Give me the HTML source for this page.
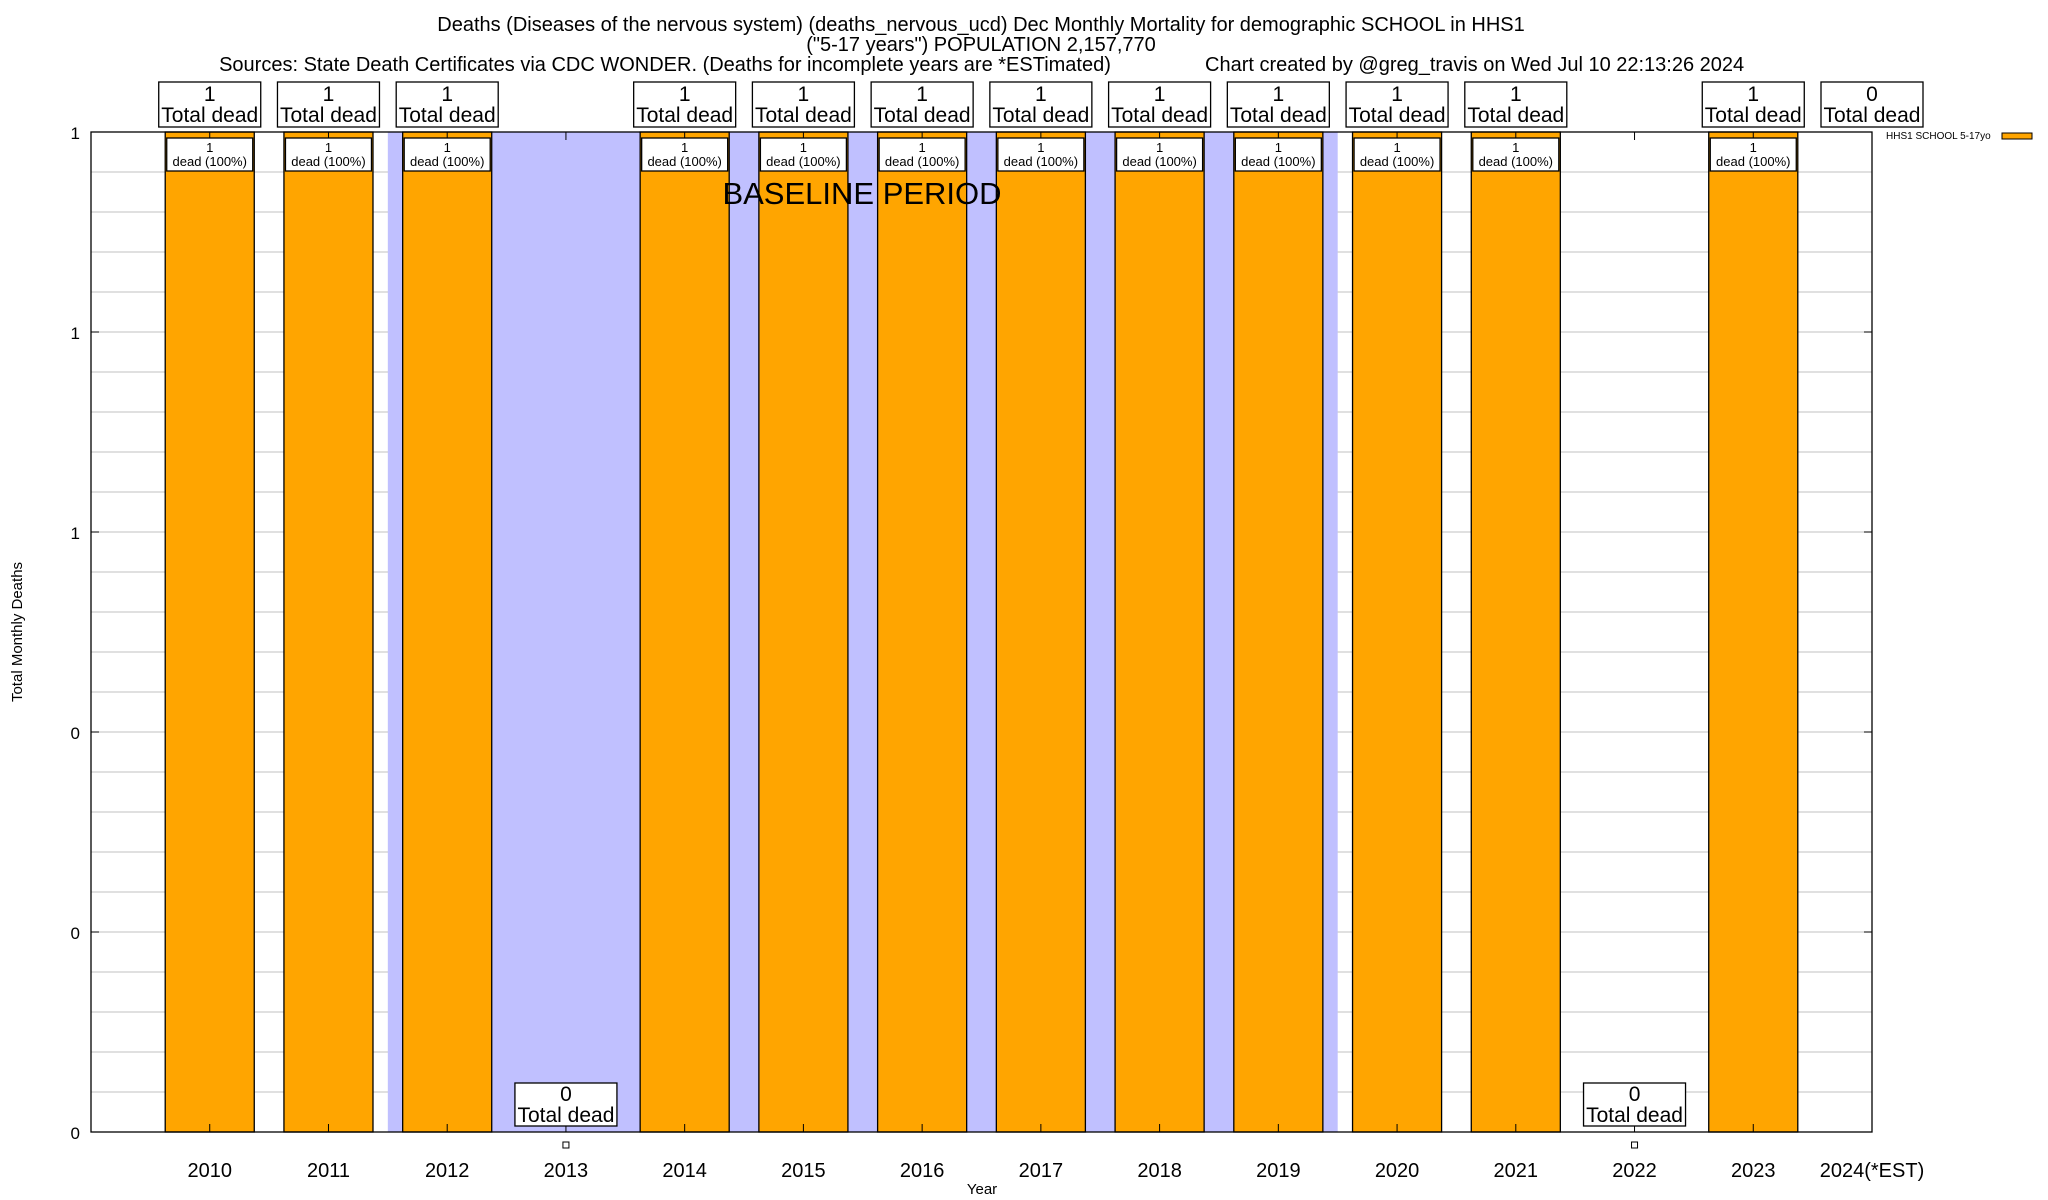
<!DOCTYPE html>
<html><head><meta charset="utf-8"><style>
html,body{margin:0;padding:0;background:#fff;}
svg{display:block;font-family:"Liberation Sans",sans-serif;}
</style></head><body>
<svg id="chart" width="2048" height="1200" viewBox="0 0 2048 1200">
<g font-size="20" text-anchor="middle">
<text x="981" y="31">Deaths (Diseases of the nervous system) (deaths_nervous_ucd) Dec Monthly Mortality for demographic SCHOOL in HHS1</text>
<text x="981" y="51">("5-17 years") POPULATION 2,157,770</text>
<text x="665" y="71">Sources: State Death Certificates via CDC WONDER. (Deaths for incomplete years are *ESTimated)</text>
<text x="1205" y="71" text-anchor="start">Chart created by @greg_travis on Wed Jul 10 22:13:26 2024</text>
</g>
<g id="grid"></g>
<g id="shade"></g>
<g id="bars"></g>
<g id="axes"></g>
<g id="labels"></g>
<text x="862" y="204" font-size="31" text-anchor="middle">BASELINE PERIOD</text>
<text x="22" y="632" font-size="15" text-anchor="middle" transform="rotate(-90 22 632)">Total Monthly Deaths</text>
<text x="982" y="1194" font-size="15" text-anchor="middle">Year</text>
<g>
<text x="1886" y="139" font-size="10">HHS1 SCHOOL 5-17yo</text>
<rect x="2002" y="133" width="30" height="6" fill="#ffa500" stroke="#000" stroke-width="1"/>
</g>
</svg>
<script>
const years = ["2010","2011","2012","2013","2014","2015","2016","2017","2018","2019","2020","2021","2022","2023","2024(*EST)"];
const deaths = [1,1,1,0,1,1,1,1,1,1,1,1,0,1,0];
const yTickLabels = ["0","0","0","1","1","1"];
const yTickValues = [0,0.2,0.4,0.6,0.8,1];
const baselineStart = 2;
const baselineEnd = 9;

const NS="http://www.w3.org/2000/svg";
const L=91,R=1872,T=132,B=1132;
const slot=(R-L)/15;
const xc=i=>L+(i+1)*slot;
const y=v=>B-(v/1)*(B-T);
function mk(tag,attrs,parent){const e=document.createElementNS(NS,tag);for(const k in attrs)e.setAttribute(k,attrs[k]);parent.appendChild(e);return e;}
const grid=document.getElementById('grid'),shade=document.getElementById('shade'),bars=document.getElementById('bars'),axes=document.getElementById('axes'),labels=document.getElementById('labels');

for(let v=0.04;v<1;v+=0.04){
  const g=mk('line',{x1:L,x2:R,y1:y(v),y2:y(v),stroke:'#c0c0c0','stroke-width':1},grid);
  
  
}
const sh=mk('rect',{x:xc(baselineStart)-slot/2,y:T,width:(baselineEnd-baselineStart+1)*slot,height:B-T,fill:'#c0c0ff'},shade);



const bw=slot*0.75;
years.forEach((yr,i)=>{
  const cx=xc(i),v=deaths[i];
  if(v>0){
    const r=mk('rect',{x:cx-bw/2,y:y(v),width:bw,height:B-y(v),fill:'#ffa500',stroke:'#000','stroke-width':1.3},bars);
    
    
    const ib=mk('g',{},labels);
    
    
    mk('rect',{x:cx-43,y:y(v)+6,width:86,height:33,fill:'#fff',stroke:'#000','stroke-width':1.3},ib);
    const t1=mk('text',{x:cx,y:y(v)+20,'font-size':13,'text-anchor':'middle'},ib);t1.textContent=v;
    const t2=mk('text',{x:cx,y:y(v)+34,'font-size':13,'text-anchor':'middle'},ib);t2.textContent='dead (100%)';
  }
  const show = !(i===3||i===12);
  if(show){
    const tb=mk('g',{},labels);
    
    
    mk('rect',{x:cx-51,y:82,width:102,height:45,fill:'#fff',stroke:'#000','stroke-width':1.3},tb);
    const a=mk('text',{x:cx,y:101,'font-size':21,'text-anchor':'middle'},tb);a.textContent=v;
    const b=mk('text',{x:cx,y:122,'font-size':21,'text-anchor':'middle'},tb);b.textContent='Total dead';
  } else {
    const tb=mk('g',{},labels);
    
    
    mk('rect',{x:cx-51,y:1083,width:102,height:43,fill:'#fff',stroke:'#000','stroke-width':1.3},tb);
    const a=mk('text',{x:cx,y:1101,'font-size':21,'text-anchor':'middle'},tb);a.textContent=v;
    const b=mk('text',{x:cx,y:1122,'font-size':21,'text-anchor':'middle'},tb);b.textContent='Total dead';
    const m=mk('rect',{x:cx-3,y:1142,width:6,height:6,fill:'#fff',stroke:'#000','stroke-width':1},labels);
    
    
  }
  const xl=mk('text',{x:cx,y:1177,'font-size':20,'text-anchor':'middle'},axes);
  xl.textContent=yr;
  
  
  mk('line',{x1:cx,x2:cx,y1:T,y2:T+8,stroke:'#000'},axes);
  mk('line',{x1:cx,x2:cx,y1:B,y2:B-8,stroke:'#000'},axes);
});
yTickValues.forEach((v,i)=>{
  const yl=mk('text',{x:80,y:y(v)+7,'font-size':17,'text-anchor':'end'},axes);
  yl.textContent=yTickLabels[i];
  
  
  mk('line',{x1:L,x2:L+8,y1:y(v),y2:y(v),stroke:'#000'},axes);
  mk('line',{x1:R,x2:R-8,y1:y(v),y2:y(v),stroke:'#000'},axes);
});
const frame=mk('rect',{x:L,y:T,width:R-L,height:B-T,fill:'none',stroke:'#000','stroke-width':1.3},axes);


</script>
</body></html>
